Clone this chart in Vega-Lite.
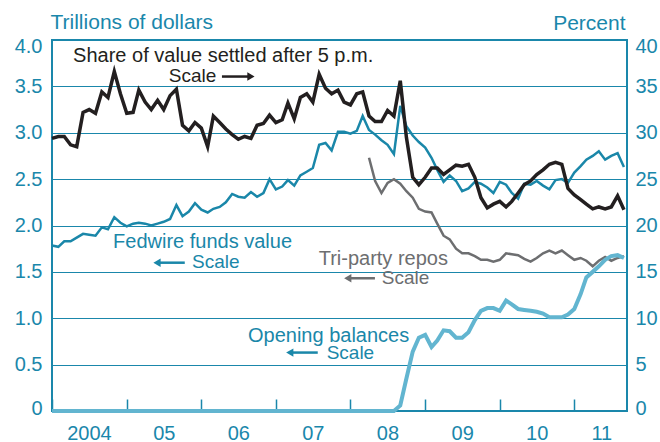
{
 "$schema": "https://vega.github.io/schema/vega-lite/v6.json",
 "width": 575,
 "height": 371,
 "autosize": "none",
 "padding": {"left": 52, "top": 40, "right": 33, "bottom": 31},
 "background": "white",
 "config": {
  "view": {"stroke": "#1a87ab", "strokeWidth": 2},
  "font": "Liberation Sans",
  "text": {"font": "Liberation Sans"},
  "axis": {"labelFont": "Liberation Sans", "titleFont": "Liberation Sans"}
 },
 "data": {"values": [
  {"date":"2004/01/01","fedwire":1.785,"share":29.4,"opening":0},
  {"date":"2004/02/01","fedwire":1.77,"share":29.6,"opening":0},
  {"date":"2004/03/01","fedwire":1.83,"share":29.6,"opening":0},
  {"date":"2004/04/01","fedwire":1.83,"share":28.7,"opening":0},
  {"date":"2004/05/01","fedwire":1.87,"share":28.5,"opening":0},
  {"date":"2004/06/01","fedwire":1.91,"share":32.2,"opening":0},
  {"date":"2004/07/01","fedwire":1.90,"share":32.5,"opening":0},
  {"date":"2004/08/01","fedwire":1.89,"share":32.1,"opening":0},
  {"date":"2004/09/01","fedwire":1.98,"share":34.4,"opening":0},
  {"date":"2004/10/01","fedwire":1.96,"share":33.8,"opening":0},
  {"date":"2004/11/01","fedwire":2.09,"share":36.6,"opening":0},
  {"date":"2004/12/01","fedwire":2.03,"share":34.2,"opening":0},
  {"date":"2005/01/01","fedwire":1.99,"share":32.1,"opening":0},
  {"date":"2005/02/01","fedwire":2.02,"share":32.2,"opening":0},
  {"date":"2005/03/01","fedwire":2.03,"share":34.6,"opening":0},
  {"date":"2005/04/01","fedwire":2.02,"share":33.3,"opening":0},
  {"date":"2005/05/01","fedwire":2.00,"share":32.5,"opening":0},
  {"date":"2005/06/01","fedwire":2.02,"share":33.5,"opening":0},
  {"date":"2005/07/01","fedwire":2.04,"share":32.5,"opening":0},
  {"date":"2005/08/01","fedwire":2.07,"share":34.0,"opening":0},
  {"date":"2005/09/01","fedwire":2.22,"share":34.7,"opening":0},
  {"date":"2005/10/01","fedwire":2.10,"share":30.8,"opening":0},
  {"date":"2005/11/01","fedwire":2.15,"share":30.2,"opening":0},
  {"date":"2005/12/01","fedwire":2.24,"share":31.1,"opening":0},
  {"date":"2006/01/01","fedwire":2.17,"share":30.5,"opening":0},
  {"date":"2006/02/01","fedwire":2.14,"share":28.5,"opening":0},
  {"date":"2006/03/01","fedwire":2.18,"share":31.8,"opening":0},
  {"date":"2006/04/01","fedwire":2.20,"share":31.1,"opening":0},
  {"date":"2006/05/01","fedwire":2.25,"share":30.4,"opening":0},
  {"date":"2006/06/01","fedwire":2.34,"share":29.8,"opening":0},
  {"date":"2006/07/01","fedwire":2.31,"share":29.3,"opening":0},
  {"date":"2006/08/01","fedwire":2.30,"share":29.6,"opening":0},
  {"date":"2006/09/01","fedwire":2.36,"share":29.4,"opening":0},
  {"date":"2006/10/01","fedwire":2.31,"share":30.8,"opening":0},
  {"date":"2006/11/01","fedwire":2.35,"share":31.0,"opening":0},
  {"date":"2006/12/01","fedwire":2.50,"share":31.9,"opening":0},
  {"date":"2007/01/01","fedwire":2.39,"share":31.1,"opening":0},
  {"date":"2007/02/01","fedwire":2.42,"share":31.4,"opening":0},
  {"date":"2007/03/01","fedwire":2.49,"share":33.2,"opening":0},
  {"date":"2007/04/01","fedwire":2.43,"share":31.5,"opening":0},
  {"date":"2007/05/01","fedwire":2.54,"share":33.8,"opening":0},
  {"date":"2007/06/01","fedwire":2.58,"share":34.2,"opening":0},
  {"date":"2007/07/01","fedwire":2.62,"share":33.3,"opening":0},
  {"date":"2007/08/01","fedwire":2.87,"share":36.3,"opening":0},
  {"date":"2007/09/01","fedwire":2.89,"share":34.8,"opening":0},
  {"date":"2007/10/01","fedwire":2.81,"share":34.2,"opening":0},
  {"date":"2007/11/01","fedwire":3.01,"share":34.6,"opening":0},
  {"date":"2007/12/01","fedwire":3.01,"share":33.3,"opening":0},
  {"date":"2008/01/01","fedwire":2.99,"share":33.0,"opening":0},
  {"date":"2008/02/01","fedwire":3.02,"share":34.2,"opening":0},
  {"date":"2008/03/01","fedwire":3.18,"share":34.4,"opening":0},
  {"date":"2008/04/01","fedwire":3.03,"share":31.8,"triparty":2.73,"opening":0},
  {"date":"2008/05/01","fedwire":2.98,"share":31.2,"triparty":2.48,"opening":0},
  {"date":"2008/06/01","fedwire":2.92,"share":31.2,"triparty":2.35,"opening":0},
  {"date":"2008/07/01","fedwire":2.87,"share":32.4,"triparty":2.46,"opening":0},
  {"date":"2008/08/01","fedwire":2.77,"share":31.8,"triparty":2.50,"opening":0},
  {"date":"2008/09/01","fedwire":3.29,"share":35.6,"triparty":2.45,"opening":0.06},
  {"date":"2008/10/01","fedwire":3.07,"share":29.5,"triparty":2.37,"opening":0.35},
  {"date":"2008/11/01","fedwire":2.97,"share":25.2,"triparty":2.30,"opening":0.64},
  {"date":"2008/12/01","fedwire":2.90,"share":24.4,"triparty":2.18,"opening":0.79},
  {"date":"2009/01/01","fedwire":2.84,"share":25.2,"triparty":2.15,"opening":0.82},
  {"date":"2009/02/01","fedwire":2.73,"share":26.2,"triparty":2.14,"opening":0.69},
  {"date":"2009/03/01","fedwire":2.60,"share":26.2,"triparty":2.02,"opening":0.76},
  {"date":"2009/04/01","fedwire":2.47,"share":25.5,"triparty":1.89,"opening":0.87},
  {"date":"2009/05/01","fedwire":2.54,"share":26.0,"triparty":1.85,"opening":0.86},
  {"date":"2009/06/01","fedwire":2.48,"share":26.5,"triparty":1.75,"opening":0.79},
  {"date":"2009/07/01","fedwire":2.37,"share":26.4,"triparty":1.70,"opening":0.79},
  {"date":"2009/08/01","fedwire":2.40,"share":26.6,"triparty":1.70,"opening":0.85},
  {"date":"2009/09/01","fedwire":2.47,"share":25.2,"triparty":1.67,"opening":0.98},
  {"date":"2009/10/01","fedwire":2.45,"share":23.0,"triparty":1.63,"opening":1.08},
  {"date":"2009/11/01","fedwire":2.41,"share":21.9,"triparty":1.63,"opening":1.11},
  {"date":"2009/12/01","fedwire":2.35,"share":22.3,"triparty":1.61,"opening":1.11},
  {"date":"2010/01/01","fedwire":2.47,"share":22.6,"triparty":1.63,"opening":1.08},
  {"date":"2010/02/01","fedwire":2.44,"share":22.0,"triparty":1.70,"opening":1.19},
  {"date":"2010/03/01","fedwire":2.35,"share":22.6,"triparty":1.69,"opening":1.15},
  {"date":"2010/04/01","fedwire":2.29,"share":23.5,"triparty":1.68,"opening":1.10},
  {"date":"2010/05/01","fedwire":2.45,"share":24.4,"triparty":1.64,"opening":1.09},
  {"date":"2010/06/01","fedwire":2.44,"share":24.8,"triparty":1.61,"opening":1.08},
  {"date":"2010/07/01","fedwire":2.48,"share":25.5,"triparty":1.65,"opening":1.07},
  {"date":"2010/08/01","fedwire":2.43,"share":26.0,"triparty":1.70,"opening":1.05},
  {"date":"2010/09/01","fedwire":2.39,"share":26.6,"triparty":1.73,"opening":1.01},
  {"date":"2010/10/01","fedwire":2.49,"share":26.8,"triparty":1.70,"opening":1.01},
  {"date":"2010/11/01","fedwire":2.50,"share":26.6,"triparty":1.73,"opening":1.01},
  {"date":"2010/12/01","fedwire":2.46,"share":24.0,"triparty":1.68,"opening":1.04},
  {"date":"2011/01/01","fedwire":2.57,"share":23.3,"triparty":1.63,"opening":1.10},
  {"date":"2011/02/01","fedwire":2.64,"share":22.8,"triparty":1.65,"opening":1.26},
  {"date":"2011/03/01","fedwire":2.71,"share":22.3,"triparty":1.62,"opening":1.44},
  {"date":"2011/04/01","fedwire":2.75,"share":21.8,"triparty":1.56,"opening":1.50},
  {"date":"2011/05/01","fedwire":2.80,"share":22.0,"triparty":1.62,"opening":1.56},
  {"date":"2011/06/01","fedwire":2.71,"share":21.8,"triparty":1.66,"opening":1.63},
  {"date":"2011/07/01","fedwire":2.75,"share":22.0,"triparty":1.62,"opening":1.67},
  {"date":"2011/08/01","fedwire":2.78,"share":23.2,"triparty":1.65,"opening":1.68},
  {"date":"2011/09/01","fedwire":2.63,"share":21.7,"triparty":1.67,"opening":1.65}
 ]},
 "resolve": {"scale": {"y": "independent"}, "axis": {"y": "independent"}},
 "layer": [
  {
   "mark": {"type": "line", "color": "#1a87a9", "strokeWidth": 2.5},
   "encoding": {
    "x": {"field": "date", "type": "temporal",
     "scale": {"domain": [{"year": 2004, "month": 1, "date": 1}, {"year": 2011, "month": 9, "date": 16}]},
     "axis": {"orient": "bottom", "title": null, "domain": false, "ticks": false, "tickSize": 0,
      "grid": true, "gridColor": "#1a87ab", "gridWidth": 1.5, "gridDash": [0, 359, 12, 0],
      "values": [{"year": 2004, "month": 1, "date": 1}, {"year": 2005, "month": 1, "date": 1}, {"year": 2006, "month": 1, "date": 1}, {"year": 2007, "month": 1, "date": 1}, {"year": 2008, "month": 1, "date": 1}, {"year": 2009, "month": 1, "date": 1}, {"year": 2010, "month": 1, "date": 1}, {"year": 2011, "month": 1, "date": 1}],
      "labelExpr": "year(datum.value) == 2004 ? '2004' : timeFormat(datum.value, '%y')",
      "labelOffset": {"condition": {"test": "year(datum.value) == 2011", "value": 27}, "value": 37},
      "labelFontSize": 20, "labelColor": "#1a87ab", "labelPadding": 12, "labelFlush": false, "labelBaseline": "top", "labelOverlap": false}},
    "y": {"field": "fedwire", "type": "quantitative",
     "scale": {"domain": [0, 4], "nice": false},
     "axis": {"orient": "left", "title": "Trillions of dollars", "values": [0, 0.5, 1, 1.5, 2, 2.5, 3, 3.5, 4],
      "labelExpr": "datum.value == 0 ? '0' : format(datum.value, '.1f')",
      "domain": false, "ticks": false, "grid": true, "gridColor": "#1a87ab", "gridWidth": 1.2,
      "labelFontSize": 20, "labelColor": "#1a87ab", "labelPadding": 10, "labelFlush": false,
      "labelOffset": {"condition": [{"test": "datum.value == 4", "value": 6}, {"test": "datum.value == 0", "value": -3}], "value": 0},
      "titleAngle": 0, "titleAlign": "left", "titleBaseline": "alphabetic", "titleX": -2, "titleY": -12,
      "titleFontSize": 21, "titleFontWeight": "normal", "titleColor": "#1a87ab"}}
   }
  },
  {
   "mark": {"type": "line", "color": "#6d6e70", "strokeWidth": 2.5},
   "encoding": {
    "x": {"field": "date", "type": "temporal"},
    "y": {"field": "triparty", "type": "quantitative", "scale": {"domain": [0, 4], "nice": false}, "axis": null}
   }
  },
  {
   "mark": {"type": "line", "color": "#62b5d0", "strokeWidth": 4},
   "encoding": {
    "x": {"field": "date", "type": "temporal"},
    "y": {"field": "opening", "type": "quantitative", "scale": {"domain": [0, 4], "nice": false}, "axis": null}
   }
  },
  {
   "mark": {"type": "line", "color": "#231f20", "strokeWidth": 3.5},
   "encoding": {
    "x": {"field": "date", "type": "temporal"},
    "y": {"field": "share", "type": "quantitative",
     "scale": {"domain": [0, 40], "nice": false},
     "axis": {"orient": "right", "title": "Percent", "values": [0, 5, 10, 15, 20, 25, 30, 35, 40],
      "domain": false, "ticks": false, "grid": false,
      "labelFontSize": 20, "labelColor": "#1a87ab", "labelPadding": 8, "labelFlush": false,
      "labelOffset": {"condition": [{"test": "datum.value == 40", "value": 6}, {"test": "datum.value == 0", "value": -3}], "value": 0},
      "titleAngle": 0, "titleAlign": "right", "titleBaseline": "alphabetic", "titleX": -2, "titleY": -11,
      "titleFontSize": 21, "titleFontWeight": "normal", "titleColor": "#1a87ab"}}
   }
  },
  {
   "data": {"values": [{}]},
   "mark": {"type": "text", "color": "#231f20", "fontSize": 20, "align": "center", "baseline": "alphabetic"},
   "encoding": {
    "x": {"datum": {"year": 2006, "month": 4, "date": 18}, "type": "temporal"},
    "y": {"datum": 3.76, "type": "quantitative", "scale": {"domain": [0, 4], "nice": false}, "axis": null},
    "text": {"value": "Share of value settled after 5 p.m."}
   }
  },
  {
   "data": {"values": [{}]},
   "mark": {"type": "text", "color": "#231f20", "fontSize": 19, "align": "center", "baseline": "alphabetic"},
   "encoding": {
    "x": {"datum": {"year": 2005, "month": 11, "date": 19}, "type": "temporal"},
    "y": {"datum": 3.55, "type": "quantitative", "scale": {"domain": [0, 4], "nice": false}, "axis": null},
    "text": {"value": "Scale"}
   }
  },
  {
   "data": {"values": [{}]},
   "mark": {"type": "rule", "color": "#231f20", "strokeWidth": 2.5},
   "encoding": {
    "x": {"datum": {"year": 2006, "month": 4, "date": 12}, "type": "temporal"},
    "x2": {"datum": {"year": 2006, "month": 9, "date": 1}},
    "y": {"datum": 3.606, "type": "quantitative", "scale": {"domain": [0, 4], "nice": false}, "axis": null}
   }
  },
  {
   "data": {"values": [{}]},
   "mark": {"type": "point", "shape": "triangle-right", "filled": true, "opacity": 1, "size": 70, "color": "#231f20"},
   "encoding": {
    "x": {"datum": {"year": 2006, "month": 9, "date": 1}, "type": "temporal"},
    "y": {"datum": 3.606, "type": "quantitative", "scale": {"domain": [0, 4], "nice": false}, "axis": null}
   }
  },
  {
   "data": {"values": [{}]},
   "mark": {"type": "text", "color": "#1a87a9", "fontSize": 20, "align": "center", "baseline": "alphabetic"},
   "encoding": {
    "x": {"datum": {"year": 2006, "month": 1, "date": 7}, "type": "temporal"},
    "y": {"datum": 1.754, "type": "quantitative", "scale": {"domain": [0, 4], "nice": false}, "axis": null},
    "text": {"value": "Fedwire funds value"}
   }
  },
  {
   "data": {"values": [{}]},
   "mark": {"type": "text", "color": "#1a87a9", "fontSize": 19, "align": "center", "baseline": "alphabetic"},
   "encoding": {
    "x": {"datum": {"year": 2006, "month": 3, "date": 13}, "type": "temporal"},
    "y": {"datum": 1.539, "type": "quantitative", "scale": {"domain": [0, 4], "nice": false}, "axis": null},
    "text": {"value": "Scale"}
   }
  },
  {
   "data": {"values": [{}]},
   "mark": {"type": "rule", "color": "#1a87a9", "strokeWidth": 2.5},
   "encoding": {
    "x": {"datum": {"year": 2005, "month": 5, "date": 29}, "type": "temporal"},
    "x2": {"datum": {"year": 2005, "month": 10, "date": 12}},
    "y": {"datum": 1.599, "type": "quantitative", "scale": {"domain": [0, 4], "nice": false}, "axis": null}
   }
  },
  {
   "data": {"values": [{}]},
   "mark": {"type": "point", "shape": "triangle-left", "filled": true, "opacity": 1, "size": 70, "color": "#1a87a9"},
   "encoding": {
    "x": {"datum": {"year": 2005, "month": 5, "date": 29}, "type": "temporal"},
    "y": {"datum": 1.599, "type": "quantitative", "scale": {"domain": [0, 4], "nice": false}, "axis": null}
   }
  },
  {
   "data": {"values": [{}]},
   "mark": {"type": "text", "color": "#6d6e70", "fontSize": 20, "align": "center", "baseline": "alphabetic"},
   "encoding": {
    "x": {"datum": {"year": 2008, "month": 6, "date": 10}, "type": "temporal"},
    "y": {"datum": 1.574, "type": "quantitative", "scale": {"domain": [0, 4], "nice": false}, "axis": null},
    "text": {"value": "Tri-party repos"}
   }
  },
  {
   "data": {"values": [{}]},
   "mark": {"type": "text", "color": "#6d6e70", "fontSize": 19, "align": "center", "baseline": "alphabetic"},
   "encoding": {
    "x": {"datum": {"year": 2008, "month": 9, "date": 27}, "type": "temporal"},
    "y": {"datum": 1.369, "type": "quantitative", "scale": {"domain": [0, 4], "nice": false}, "axis": null},
    "text": {"value": "Scale"}
   }
  },
  {
   "data": {"values": [{}]},
   "mark": {"type": "rule", "color": "#6d6e70", "strokeWidth": 2.5},
   "encoding": {
    "x": {"datum": {"year": 2007, "month": 12, "date": 19}, "type": "temporal"},
    "x2": {"datum": {"year": 2008, "month": 4, "date": 30}},
    "y": {"datum": 1.431, "type": "quantitative", "scale": {"domain": [0, 4], "nice": false}, "axis": null}
   }
  },
  {
   "data": {"values": [{}]},
   "mark": {"type": "point", "shape": "triangle-left", "filled": true, "opacity": 1, "size": 70, "color": "#6d6e70"},
   "encoding": {
    "x": {"datum": {"year": 2007, "month": 12, "date": 19}, "type": "temporal"},
    "y": {"datum": 1.431, "type": "quantitative", "scale": {"domain": [0, 4], "nice": false}, "axis": null}
   }
  },
  {
   "data": {"values": [{}]},
   "mark": {"type": "text", "color": "#1a87a9", "fontSize": 20, "align": "center", "baseline": "alphabetic"},
   "encoding": {
    "x": {"datum": {"year": 2007, "month": 9, "date": 16}, "type": "temporal"},
    "y": {"datum": 0.747, "type": "quantitative", "scale": {"domain": [0, 4], "nice": false}, "axis": null},
    "text": {"value": "Opening balances"}
   }
  },
  {
   "data": {"values": [{}]},
   "mark": {"type": "text", "color": "#1a87a9", "fontSize": 19, "align": "center", "baseline": "alphabetic"},
   "encoding": {
    "x": {"datum": {"year": 2008, "month": 1, "date": 1}, "type": "temporal"},
    "y": {"datum": 0.56, "type": "quantitative", "scale": {"domain": [0, 4], "nice": false}, "axis": null},
    "text": {"value": "Scale"}
   }
  },
  {
   "data": {"values": [{}]},
   "mark": {"type": "rule", "color": "#1a87a9", "strokeWidth": 2.5},
   "encoding": {
    "x": {"datum": {"year": 2007, "month": 3, "date": 10}, "type": "temporal"},
    "x2": {"datum": {"year": 2007, "month": 7, "date": 25}},
    "y": {"datum": 0.63, "type": "quantitative", "scale": {"domain": [0, 4], "nice": false}, "axis": null}
   }
  },
  {
   "data": {"values": [{}]},
   "mark": {"type": "point", "shape": "triangle-left", "filled": true, "opacity": 1, "size": 70, "color": "#1a87a9"},
   "encoding": {
    "x": {"datum": {"year": 2007, "month": 3, "date": 10}, "type": "temporal"},
    "y": {"datum": 0.63, "type": "quantitative", "scale": {"domain": [0, 4], "nice": false}, "axis": null}
   }
  }
 ]
}
